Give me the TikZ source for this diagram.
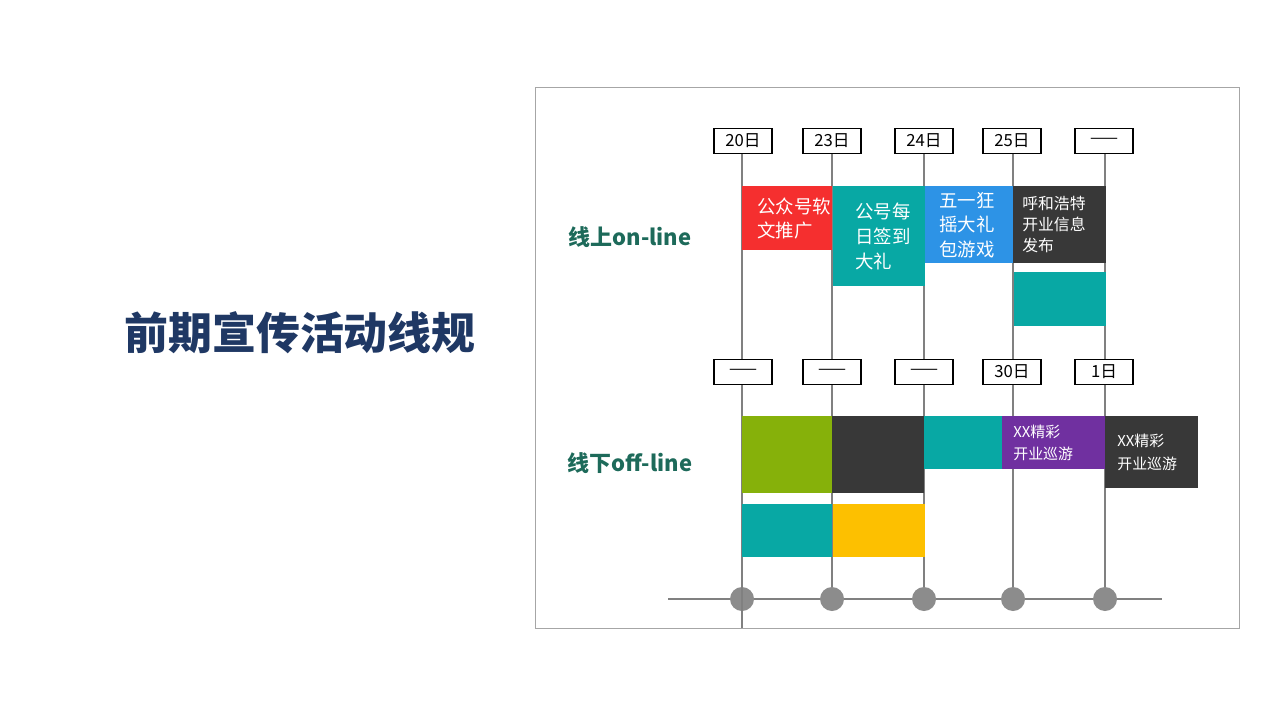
\documentclass[tikz,border=0pt]{standalone}
\usepackage{fontspec}
\setmainfont{Noto Sans CJK SC}
\usetikzlibrary{positioning}
\definecolor{navy}{HTML}{1F3864}
\definecolor{dteal}{HTML}{1D6A5A}
\definecolor{cteal}{HTML}{08A8A4}
\definecolor{cred}{HTML}{F52F2F}
\definecolor{cblue}{HTML}{2D93E6}
\definecolor{cdark}{HTML}{383838}
\definecolor{cgreen}{HTML}{86B10A}
\definecolor{cyellow}{HTML}{FDC000}
\definecolor{cpurple}{HTML}{7030A0}
\begin{document}
\begin{tikzpicture}[
    x=0.02cm, y=-0.02cm,
    datebox/.style={rectangle, draw=black, fill=white, line width=0.6pt, minimum width=1.16cm, minimum height=0.5cm, inner sep=0pt, font=\fontsize{9.5}{10}\selectfont},
    blk/.style={rectangle, anchor=north west, inner sep=0pt, text=white, align=left, font=\fontsize{10.5}{14}\selectfont},
    tick/.style={circle, fill=gray!90, minimum size=0.48cm, inner sep=0pt},
    rowlabel/.style={text=dteal, font=\bfseries\fontsize{12.5}{14}\selectfont},
]
    \useasboundingbox (0,0) rectangle (1280,720);
    \draw[gray!70, line width=0.5pt] (535,87) rectangle (1239,628);
    \node[text=navy, font=\bfseries\fontsize{25}{28}\selectfont] (title) at (300,333) {前期宣传活动线规};
    \node[rowlabel] (online) at (630,237) {线上on-line};
    \node[rowlabel] (offline) at (630,463) {线下off-line};

    % axis
    \draw[gray, line width=0.6pt] (668,599) -- (1162,599);
    \foreach \n/\x in {a/742, b/832, c/924, d/1013, e/1105}
        \node[tick] (t\n) at (\x,599) {};

    % date labels
    \node[datebox] (ua) at (743,141) {20日};
    \node[datebox] (ub) at (832,141) {23日};
    \node[datebox] (uc) at (924,141) {24日};
    \node[datebox] (ud) at (1012,141) {25日};
    \node[datebox] (ue) at (1104,141) {——};
    \node[datebox] (la) at (743,372) {——};
    \node[datebox] (lb) at (832,372) {——};
    \node[datebox] (lc) at (924,372) {——};
    \node[datebox] (ld) at (1012,372) {30日};
    \node[datebox] (le) at (1104,372) {1日\hspace{1.5em}};

    % time lines
    \foreach \n in {a,b,c,d,e} {
        \draw[gray, line width=0.6pt] (u\n.south -| t\n) -- (l\n.north -| t\n);
    }
    \draw[gray, line width=0.6pt] (la.south -| ta) -- (742,628);
    \foreach \n in {b,c,d,e}
        \draw[gray, line width=0.6pt] (l\n.south -| t\n) -- (t\n);

    % on-line blocks
    \node[blk, fill=cred, minimum width=1.8cm, minimum height=1.28cm, text width=1.6cm] (on1) at (742,186) {\hspace*{0.2cm}公众号软\\\hspace*{0.2cm}文推广};
    \node[blk, fill=cteal, minimum width=1.84cm, minimum height=2cm, text width=1.6cm] (on2) at (833,186) {\hspace*{0.32cm}公号每\\\hspace*{0.32cm}日签到\\\hspace*{0.32cm}大礼};
    \node[blk, fill=cblue, minimum width=1.76cm, minimum height=1.54cm, text width=1.6cm] (on3) at (925,186) {\hspace*{0.2cm}五一狂\\\hspace*{0.2cm}摇大礼\\\hspace*{0.2cm}包游戏};
    \node[blk, fill=cdark, minimum width=1.86cm, minimum height=1.54cm, text width=1.7cm, font=\fontsize{9}{12}\selectfont] (on4) at (1013,186) {\hspace*{0.1cm}呼和浩特\\\hspace*{0.1cm}开业信息\\\hspace*{0.1cm}发布};
    \node[blk, fill=cteal, minimum width=1.84cm, minimum height=1.08cm] (on5) at (1014,272) {};

    % off-line blocks
    \node[blk, fill=cgreen, minimum width=1.8cm, minimum height=1.54cm] (off1) at (742,416) {};
    \node[blk, fill=cdark, minimum width=1.84cm, minimum height=1.54cm] (off2) at (832,416) {};
    \node[blk, fill=cteal, minimum width=1.56cm, minimum height=1.06cm] (off3) at (924,416) {};
    \node[blk, fill=cpurple, minimum width=2.06cm, minimum height=1.06cm, text width=1.9cm, font=\fontsize{8.5}{13}\selectfont] (off4) at (1002,416) {\hspace*{0.14cm}XX精彩\\\hspace*{0.14cm}开业巡游};
    \node[blk, fill=cdark, minimum width=1.86cm, minimum height=1.44cm, text width=1.7cm, font=\fontsize{8.5}{13}\selectfont] (off5) at (1105,416) {\hspace*{0.16cm}XX精彩\\\hspace*{0.16cm}开业巡游};
    \node[blk, fill=cteal, minimum width=1.8cm, minimum height=1.06cm] (off6) at (742,504) {};
    \node[blk, fill=cyellow, minimum width=1.84cm, minimum height=1.06cm] (off7) at (833,504) {};
\end{tikzpicture}
\end{document}
